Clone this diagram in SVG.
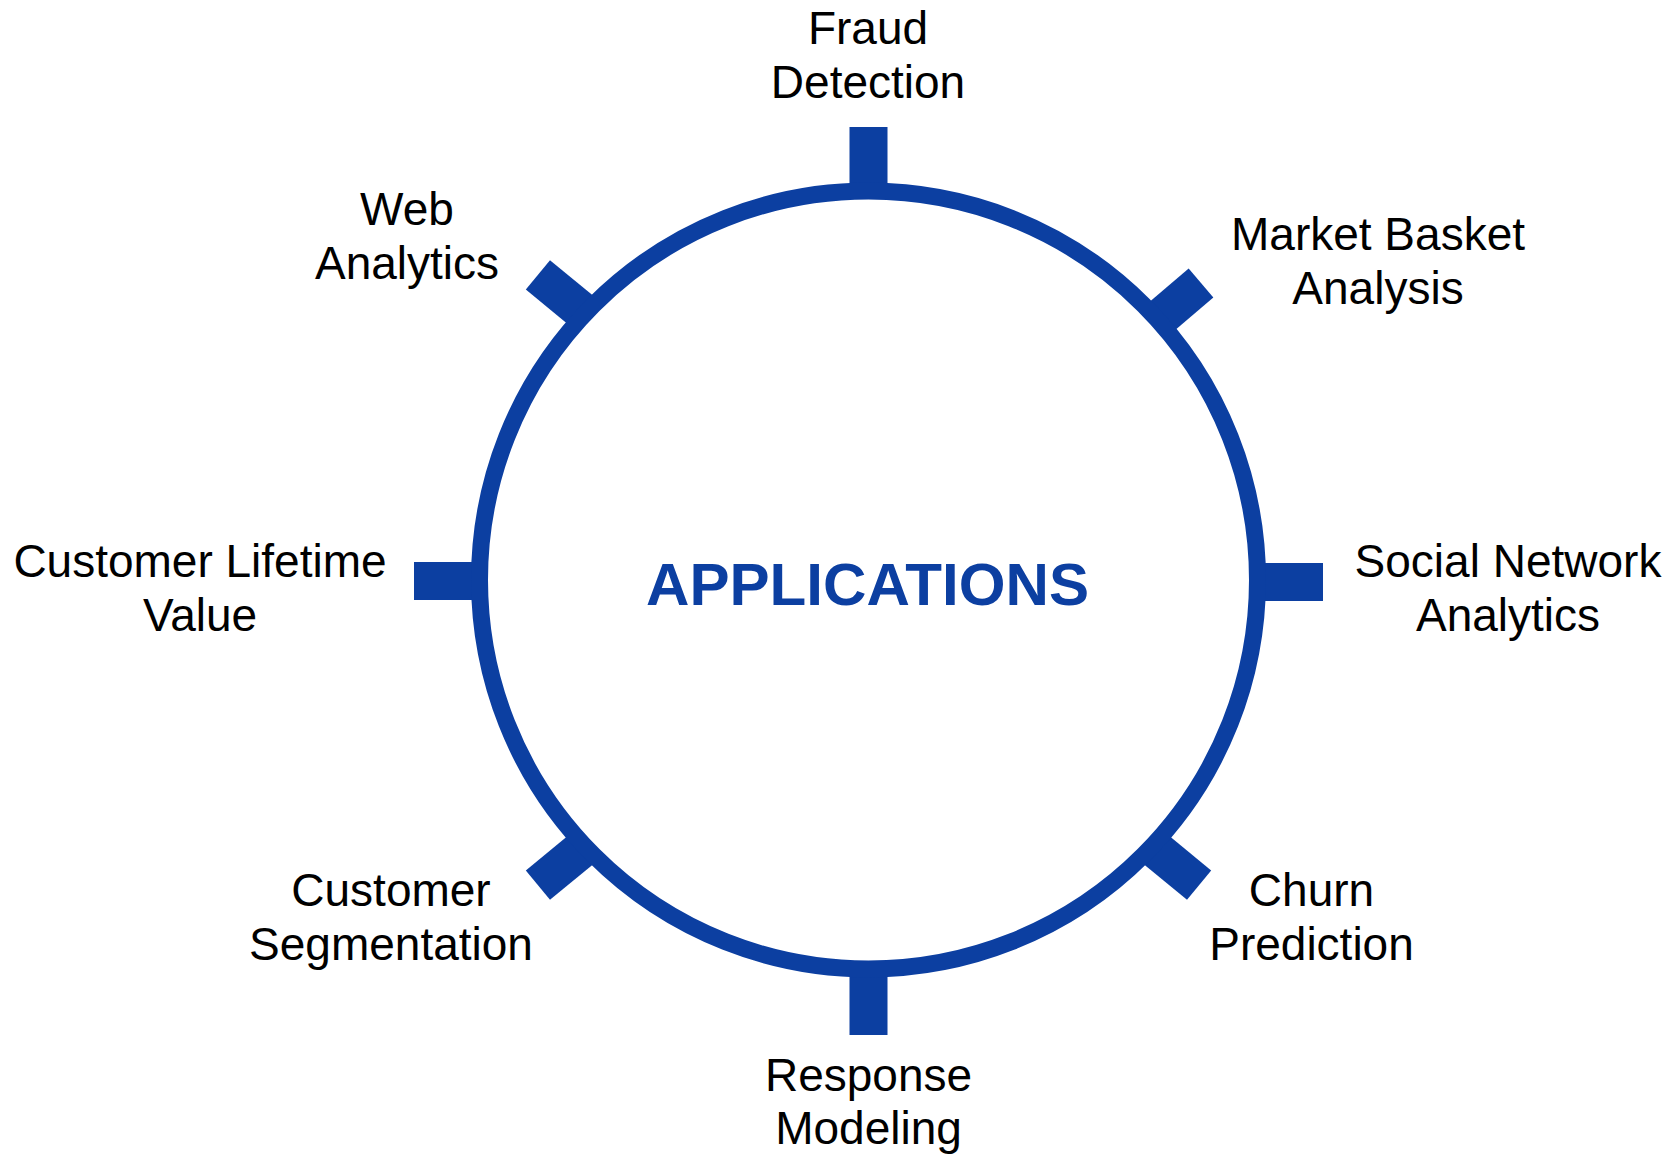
<svg xmlns="http://www.w3.org/2000/svg" width="1672" height="1154" viewBox="0 0 1672 1154">
<style>
.lbl{font-family:"Liberation Sans",Arial,sans-serif;font-size:46px;fill:#000;text-anchor:middle}
.title{font-family:"Liberation Sans",Arial,sans-serif;font-size:60px;font-weight:bold;fill:#0C3FA1;text-anchor:middle}
.tick{fill:#0C3FA1}
.ring{fill:#fff;stroke:#0C3FA1;stroke-width:17}
</style>
<defs>
<rect id="t" x="-64" y="-19" width="64" height="38"/>
</defs>
<rect width="1672" height="1154" fill="#fff"/>
<g id="connectors">
<use href="#t" class="tick" transform="translate(868.5,127) rotate(-90)"/>
<use href="#t" class="tick" transform="translate(868.5,1035) rotate(90)"/>
<use href="#t" class="tick" transform="translate(414,581) rotate(180)"/>
<use href="#t" class="tick" transform="translate(1323,582) rotate(0)"/>
<use href="#t" class="tick" transform="translate(537.9,274.8) rotate(219.5)"/>
<use href="#t" class="tick" transform="translate(1201,283) rotate(-40.5)"/>
<use href="#t" class="tick" transform="translate(1199.1,885.2) rotate(39.5)"/>
<use href="#t" class="tick" transform="translate(537.9,885.2) rotate(140.5)"/>
</g>
<g id="center">
<circle class="ring" cx="868.5" cy="580" r="389"/>
<text class="title" x="867.5" y="604.5" textLength="443" lengthAdjust="spacingAndGlyphs">APPLICATIONS</text>
</g>
<g id="fraud"><text class="lbl" x="868" y="43.5">Fraud</text><text class="lbl" x="868" y="98">Detection</text></g>
<g id="web"><text class="lbl" x="407" y="225">Web</text><text class="lbl" x="407" y="279">Analytics</text></g>
<g id="market"><text class="lbl" x="1378" y="249.5">Market Basket</text><text class="lbl" x="1378" y="304">Analysis</text></g>
<g id="clv"><text class="lbl" x="200" y="577">Customer Lifetime</text><text class="lbl" x="200" y="631">Value</text></g>
<g id="social"><text class="lbl" x="1508" y="577">Social Network</text><text class="lbl" x="1508" y="631">Analytics</text></g>
<g id="segmentation"><text class="lbl" x="391" y="906">Customer</text><text class="lbl" x="391" y="960">Segmentation</text></g>
<g id="churn"><text class="lbl" x="1311.5" y="906">Churn</text><text class="lbl" x="1311.5" y="960">Prediction</text></g>
<g id="response"><text class="lbl" x="868.5" y="1091">Response</text><text class="lbl" x="868.5" y="1144">Modeling</text></g>
</svg>
